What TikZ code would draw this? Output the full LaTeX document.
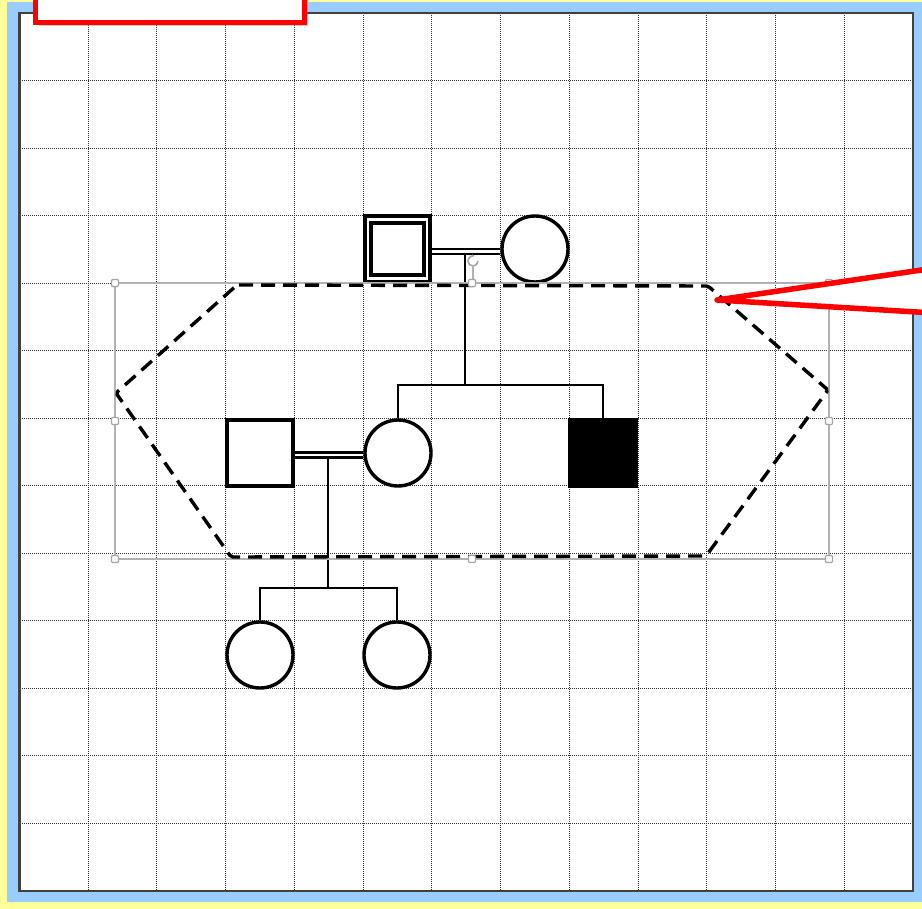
\documentclass[tikz,border=0pt]{standalone}
\usetikzlibrary{positioning,shadows,arrows.meta}
\definecolor{frameblue}{HTML}{99CCFF}
\definecolor{frameyellow}{HTML}{FFFF99}

\begin{document}
\begin{tikzpicture}[
    x=1pt, y=-1pt,
    every node/.style={inner sep=0pt, outer sep=0pt},
    male/.style={rectangle, draw=black, line width=3.4pt, minimum size=66pt, outer sep=1.7pt},
    female/.style={circle, draw=black, line width=3.4pt, minimum size=66pt, outer sep=1.7pt},
    affected/.style={male, fill=black},
    proband/.style={rectangle, draw=black, double, double distance=2.6pt, line width=3.8pt, minimum size=59pt, outer sep=5.1pt},
    marr/.style={double, double distance=2.6pt, line width=2.4pt},
    link/.style={line width=2.4pt},
    gridline/.style={black!80, line width=1pt, dash pattern=on 1pt off 1pt},
    selbox/.style={draw=black!30, line width=1.3pt},
    handle/.style={rectangle, draw=black!35, fill=white, line width=1.2pt, minimum size=7pt, rounded corners=1pt},
    hexa/.style={line width=3.4pt, dash pattern=on 14pt off 8pt, rounded corners=2pt},
    pointer/.style={draw=red, line width=5.5pt, line join=round, line cap=round}
]
\useasboundingbox (0,0) rectangle (922,909);
\fill[frameyellow] (0,0) rectangle (922,909);
\fill[frameblue] (7,2) rectangle (922,902);
\fill[white] (19.5,13) rectangle (913,891);
\foreach \k in {1,...,12} {
  \draw[gridline] ({19.5+\k*893.5/13},13) -- ({19.5+\k*893.5/13},891);
  \draw[gridline] (19.5,{13+\k*878/13}) -- (913,{13+\k*878/13});
}
\draw[black!75, line width=2.8pt] (19.5,13) rectangle (913,891);

\node[proband] (gf) at (397.5,249) {};
\node[female] (gm) at (535,249) {};
\node[male] (fa) at (260,453) {};
\node[female] (mo) at (398,453) {};
\node[affected] (bro) at (603,453) {};
\node[female] (d1) at (260,655) {};
\node[female] (d2) at (397,655) {};

\coordinate (u1) at (465,255);
\coordinate (s1) at (465,385);
\coordinate (u2) at (328,457);
\coordinate (s2) at (328,588);
\draw[marr] ([yshift=-2.5pt]gf.east) -- ([yshift=-2.5pt]gm.west);
\draw[marr] ([yshift=-2pt]fa.east) -- ([yshift=-2pt]mo.west);
\draw[link] (u1) -- (s1);
\draw[link] (mo.north) |- (s1) -| (bro.north);
\draw[link] (u2) -- (s2);
\draw[link] (d1.north) |- (s2) -| (d2.north);

\draw[selbox] (115,283) rectangle (829,559);
\draw[hexa] (237,285) -- (708,286) -- (828,390) -- (706,556) -- (231,557) -- (116,393) -- cycle;
\draw[selbox] (473,283) -- (473,267);
\draw[black!35, line width=1.6pt, -{Stealth[length=3pt]}] (478,261) arc[start angle=0, end angle=290, radius=5];
\foreach \hx/\hy [count=\i] in {115/283, 472/283, 829/283, 115/421, 829/421, 115/559, 472/559, 829/559}
  \node[handle] (h\i) at (\hx,\hy) {};

\coordinate (tip) at (717,300);
\coordinate (ca) at (925,269.5);
\coordinate (cb) at (925,312.5);
\fill[white] (tip) -- (ca) -- (cb) -- cycle;
\draw[pointer] (ca) -- (tip) -- (cb);

\node[draw=red, fill=white, line width=5.5pt, minimum width=269pt, minimum height=42.5pt,
    drop shadow={shadow xshift=3pt, shadow yshift=-4pt, opacity=0.4}] (tag) at (170,1.25) {};
\end{tikzpicture}
\end{document}
